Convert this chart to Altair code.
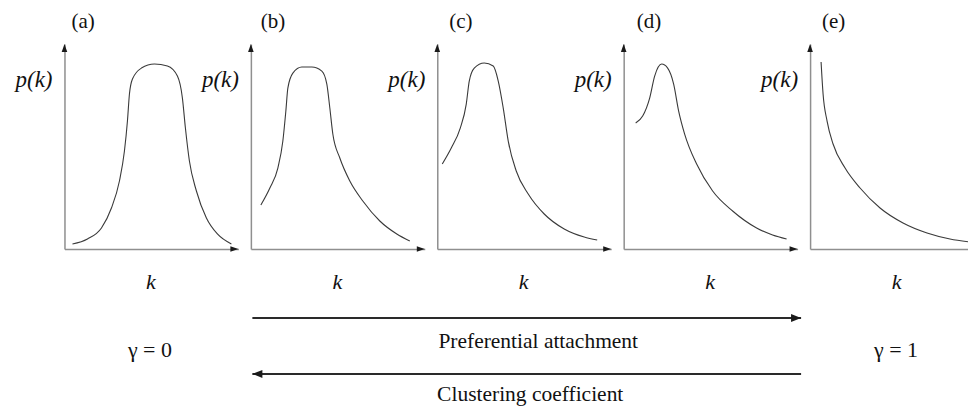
import altair as alt
import pandas as pd

# ---------------- data ----------------
panel_labels = ["(a)", "(b)", "(c)", "(d)", "(e)"]

# axis extents (k along the horizontal axis, p(k) along the vertical axis)
K_MAX = 174
K_MAX_LAST = 158          # the last panel is cut by the right edge of the figure
P_MAX = 205

a_k = [8, 23, 37, 47, 55, 60, 63, 65, 68, 77, 90, 103, 113, 118, 121, 125, 132, 142, 153, 167]
a_p = [5, 10, 21, 41, 68, 98, 128, 155, 170, 181, 185, 183, 173, 151, 121, 88, 58, 31, 15, 5]

b_k = [10, 19, 27, 32, 35, 37, 42, 51, 61, 71, 76, 79, 82, 89, 99, 112, 129, 146, 159]
b_p = [44, 61, 81, 108, 138, 161, 176, 182, 182, 178, 165, 141, 115, 91, 68, 48, 28, 15, 8]

c_k = [5, 14, 23, 29, 32, 37, 47, 56, 61, 66, 71, 79, 91, 107, 127, 147, 160]
c_p = [85, 101, 121, 145, 168, 181, 186, 183, 168, 141, 108, 78, 55, 35, 20, 12, 9]

d_k = [12, 19, 26, 31, 38, 44, 50, 55, 61, 73, 89, 109, 133, 149, 163]
d_p = [126, 133, 151, 173, 185, 181, 165, 138, 115, 85, 58, 38, 21, 14, 10]

e_k = [11, 13, 17, 23, 35, 50, 70, 93, 117, 140, 160]
e_p = [187, 155, 128, 105, 81, 61, 41, 26, 16, 10, 7]

gamma_labels = ["γ = 0", "γ = 1"]
gamma_k = [85.5, 86]            # along k of panel (a) and panel (e)

arrow_labels = ["Preferential attachment", "Clustering coefficient"]
arrow_start_k = [-185, 364]     # along k of the middle panel (c)
arrow_end_k = [364, -185]
arrow_label_k = [101, 93]

# ---------------- styling ----------------
SERIF = "Liberation Serif, Times New Roman, Times, DejaVu Serif, serif"
TEXT_C = "#111111"
AXIS_C = "#8f8f8f"
CURVE_C = "#3a3a3a"
HEAD_C = "#1a1a1a"
UP_HEAD = "M0,-1L0.7,1L-0.7,1Z"
RIGHT_HEAD = "M1,0L-1,-0.7L-1,0.7Z"
BIG_RIGHT = "M1,0L-1,-0.8L-1,0.8Z"
BIG_LEFT = "M-1,0L1,-0.8L1,0.8Z"
title_dx = [7, 10, 12, 13, 12]


def panel(i, ks, ps, kmax, extra=(), x_head=True):
    df = pd.DataFrame({"k": ks, "p": ps})
    xs = alt.Scale(domain=[0, kmax], nice=False, zero=False)
    ys = alt.Scale(domain=[0, P_MAX], nice=False, zero=False)
    x_axis = alt.Axis(
        title="k", labels=False, ticks=False, grid=False,
        domainColor=AXIS_C, domainWidth=1.5,
        titleFont=SERIF, titleFontStyle="italic", titleFontWeight="normal",
        titleFontSize=22, titleColor=TEXT_C,
        titleX=86, titleY=40, titleAlign="center", titleBaseline="alphabetic",
    )
    y_axis = alt.Axis(
        title="p(k)", labels=False, ticks=False, grid=False,
        domainColor=AXIS_C, domainWidth=1.5,
        titleFont=SERIF, titleFontStyle="italic", titleFontWeight="normal",
        titleFontSize=23, titleColor=TEXT_C, titleAngle=0,
        titleX=-31, titleY=42, titleAlign="center", titleBaseline="alphabetic",
    )
    curve = alt.Chart(df).mark_line(
        interpolate="monotone", color=CURVE_C, strokeWidth=1.1, clip=True
    ).encode(
        x=alt.X("k:Q", scale=xs, axis=x_axis),
        y=alt.Y("p:Q", scale=ys, axis=y_axis),
    )
    up = alt.Chart(pd.DataFrame({"k": [0], "p": [P_MAX]})).mark_point(
        shape=UP_HEAD, size=64, filled=True, color=HEAD_C, opacity=1, yOffset=4
    ).encode(x="k:Q", y="p:Q")
    layers = [curve, up]
    if x_head:
        right = alt.Chart(pd.DataFrame({"k": [kmax], "p": [0]})).mark_point(
            shape=RIGHT_HEAD, size=64, filled=True, color=HEAD_C, opacity=1, xOffset=-4
        ).encode(x="k:Q", y="p:Q")
        layers.append(right)
    layers.extend(extra)
    return alt.layer(*layers).properties(
        width=kmax, height=P_MAX,
        title=alt.TitleParams(
            text=panel_labels[i], anchor="start", frame="group", dx=title_dx[i],
            offset=-9, font=SERIF, fontSize=21, fontWeight="normal",
            color=TEXT_C, baseline="bottom",
        ),
    )


gamma_df = pd.DataFrame({"label": gamma_labels, "k": gamma_k})


def gamma_text(idx):
    return alt.Chart(gamma_df).transform_filter(
        alt.datum.label == gamma_labels[idx]
    ).mark_text(font=SERIF, fontSize=22, color=TEXT_C, align="center",
                baseline="alphabetic").encode(
        x="k:Q", y=alt.value(313), text="label:N")


arrows_df = pd.DataFrame({
    "label": arrow_labels, "start": arrow_start_k, "end": arrow_end_k,
    "mid": arrow_label_k,
})


def arrow_layers(idx, line_y, text_y, head, head_dx):
    base = alt.Chart(arrows_df).transform_filter(alt.datum.label == arrow_labels[idx])
    line = base.mark_rule(color="#2a2a2a", strokeWidth=2).encode(
        x="start:Q", x2="end:Q", y=alt.value(line_y))
    tip = base.mark_point(shape=head, size=100, filled=True, color="#1a1a1a",
                          opacity=1, xOffset=head_dx).encode(
        x="end:Q", y=alt.value(line_y))
    txt = base.mark_text(font=SERIF, fontSize=21.5, color=TEXT_C, align="center",
                         baseline="alphabetic").encode(
        x="mid:Q", y=alt.value(text_y), text="label:N")
    return [line, tip, txt]


p_a = panel(0, a_k, a_p, K_MAX, extra=[gamma_text(0)])
p_b = panel(1, b_k, b_p, K_MAX)
p_c = panel(2, c_k, c_p, K_MAX,
            extra=arrow_layers(0, 274, 304, BIG_RIGHT, -5)
            + arrow_layers(1, 330, 357, BIG_LEFT, 5))
p_d = panel(3, d_k, d_p, K_MAX)
p_e = panel(4, e_k, e_p, K_MAX_LAST, extra=[gamma_text(1)], x_head=False)

chart = alt.hconcat(
    p_a, p_b, p_c, p_d, p_e, spacing=12.5, bounds="flush"
).properties(
    padding={"left": 6.5, "top": 3, "right": 0, "bottom": 0},
    background="white",
).configure_view(strokeWidth=0)

chart.save("out.html", embed_options={"renderer": "svg", "actions": False})
